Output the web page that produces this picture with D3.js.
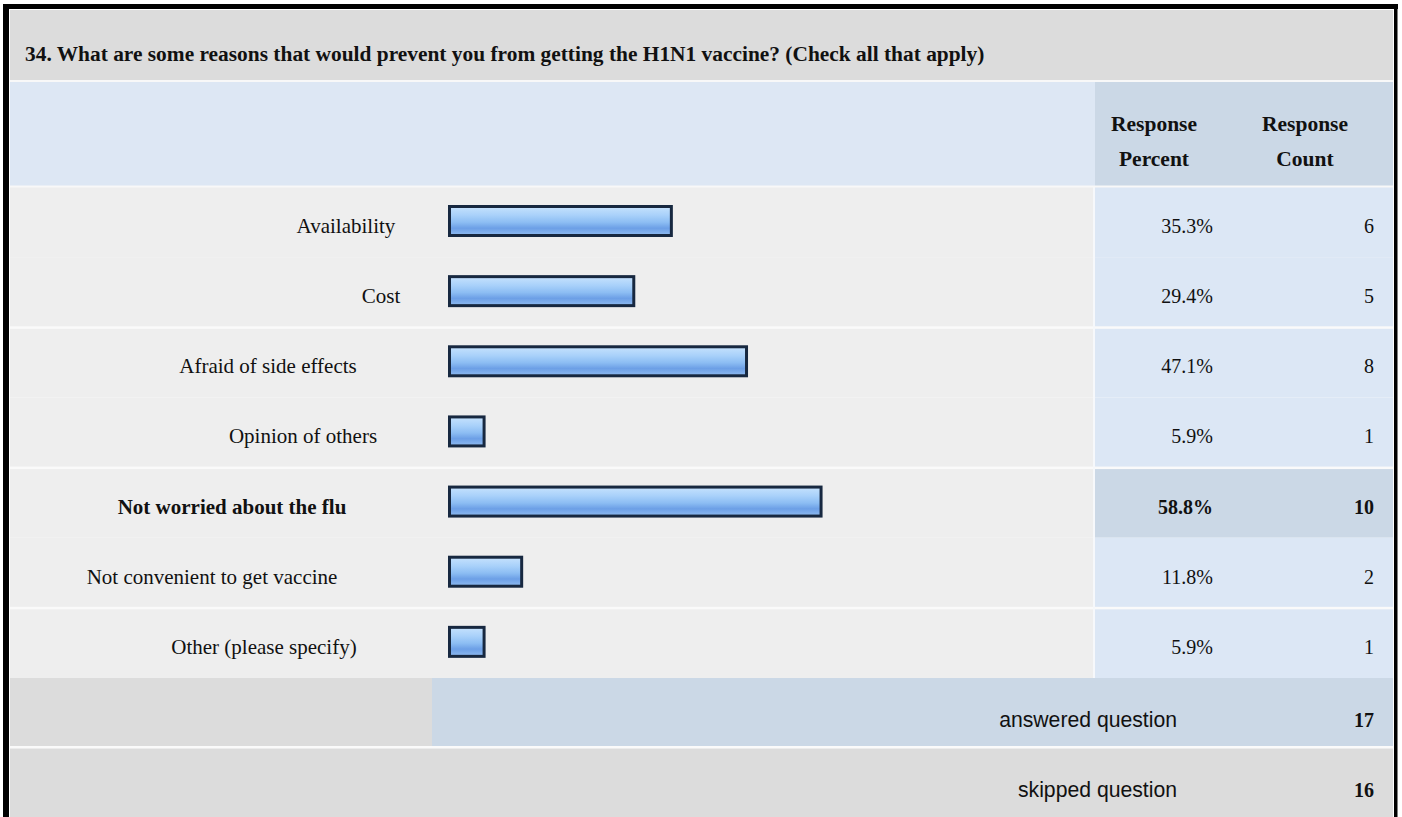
<!DOCTYPE html>
<html>
<head>
<meta charset="utf-8">
<title>H1N1 vaccine survey</title>
<style>
body { margin: 0; background: #fff; }
text.serif { font-family: "Times New Roman", "Liberation Serif", serif; fill: #111; }
text.sans { font-family: Arial, "Liberation Sans", sans-serif; fill: #111; }
</style>
<script src="https://cdn.jsdelivr.net/npm/d3@7/dist/d3.min.js"></script>
</head>
<body>
<script>

var title = "34. What are some reasons that would prevent you from getting the H1N1 vaccine? (Check all that apply)";
var categories = ["Availability", "Cost", "Afraid of side effects", "Opinion of others",
                  "Not worried about the flu", "Not convenient to get vaccine", "Other (please specify)"];
var percents = [35.3, 29.4, 47.1, 5.9, 58.8, 11.8, 5.9];
var counts = [6, 5, 8, 1, 10, 2, 1];
var highlighted = "Not worried about the flu";
var answered = 17, skipped = 16;

// layout only: where each label sits (the source table is not aligned)
var labelCenters = [346, 381, 268, 303, 232, 212, 264];

var width = 1402, height = 817;

var svg = d3.select("body").append("svg")
    .attr("width", width)
    .attr("height", height);

var defs = svg.append("defs");
var grad = defs.append("linearGradient")
    .attr("id", "barfill")
    .attr("x1", 0).attr("y1", 0).attr("x2", 0).attr("y2", 1);
[["0%", "#c6e2fd"], ["30%", "#a9d1fa"], ["55%", "#8cbdf3"], ["75%", "#6c9fe6"], ["100%", "#8fbbf0"]]
  .forEach(function(s) { grad.append("stop").attr("offset", s[0]).attr("stop-color", s[1]); });

var left = 10, right = 1393, colSplit = 1093;
var y = d3.scaleBand().domain(categories).range([187, 678]);
var x = d3.scaleLinear().domain([0, 100]).range([448, 1085]);

// title row
svg.append("rect").attr("x", left).attr("y", 10).attr("width", right - left).attr("height", 70).attr("fill", "#dcdcdc");
svg.append("text").attr("class", "serif").attr("x", 25).attr("y", 61)
    .style("font-size", "21.4px").style("font-weight", "bold").text(title);

// header row
svg.append("rect").attr("x", left).attr("y", 82).attr("width", right - left).attr("height", 104).attr("fill", "#dde7f4");
svg.append("rect").attr("x", colSplit + 2).attr("y", 82).attr("width", right - colSplit - 2).attr("height", 104).attr("fill", "#cbd8e6");

var heads = [["Response", "Percent", 1154], ["Response", "Count", 1305]];
heads.forEach(function(h) {
  var t = svg.append("text").attr("class", "serif").attr("text-anchor", "middle")
      .style("font-size", "21.5px").style("font-weight", "bold");
  t.append("tspan").attr("x", h[2]).attr("y", 131).text(h[0]);
  t.append("tspan").attr("x", h[2]).attr("y", 166).text(h[1]);
});

// body rows
var rows = svg.append("g").selectAll("g")
    .data(categories)
    .enter().append("g");

rows.append("rect")
    .attr("x", left).attr("y", function(d) { return y(d); })
    .attr("width", colSplit - left).attr("height", y.bandwidth())
    .attr("fill", "#eeeeee");

rows.append("rect")
    .attr("x", colSplit + 2).attr("y", function(d) { return y(d); })
    .attr("width", right - colSplit - 2).attr("height", y.bandwidth())
    .attr("fill", function(d) { return d == highlighted ? "#cbd8e6" : "#dce7f5"; });

rows.append("text")
    .attr("class", "serif")
    .attr("x", function(d, i) { return labelCenters[i]; })
    .attr("y", function(d) { return y(d) + 46; })
    .attr("text-anchor", "middle")
    .style("font-size", "21px")
    .style("font-weight", function(d) { return d == highlighted ? "bold" : "normal"; })
    .text(function(d) { return d; });

rows.append("rect")
    .attr("x", x(0) + 1.5)
    .attr("y", function(d) { return y(d) + 19.5; })
    .attr("width", function(d, i) { return Math.max(x(percents[i]) - x(0) - 3, 30); })
    .attr("height", 29)
    .attr("fill", "url(#barfill)")
    .attr("stroke", "#172840")
    .attr("stroke-width", 3);

rows.append("text")
    .attr("class", "serif")
    .attr("x", 1213)
    .attr("y", function(d) { return y(d) + 46; })
    .attr("text-anchor", "end")
    .style("font-size", "20px")
    .style("font-weight", function(d) { return d == highlighted ? "bold" : "normal"; })
    .text(function(d, i) { return percents[i].toFixed(1) + "%"; });

rows.append("text")
    .attr("class", "serif")
    .attr("x", 1374)
    .attr("y", function(d) { return y(d) + 46; })
    .attr("text-anchor", "end")
    .style("font-size", "20px")
    .style("font-weight", function(d) { return d == highlighted ? "bold" : "normal"; })
    .text(function(d, i) { return counts[i]; });

// white separators between pairs of rows
[2, 4, 6].forEach(function(i) {
  svg.append("rect").attr("x", left).attr("y", y(categories[i]) - 1)
      .attr("width", right - left).attr("height", 2.5).attr("fill", "#fafafa");
});
svg.append("rect").attr("x", colSplit).attr("y", 187).attr("width", 2).attr("height", 491).attr("fill", "#f6f8fb");

// footer rows
svg.append("rect").attr("x", left).attr("y", 678).attr("width", right - left).attr("height", 69).attr("fill", "#dcdcdc");
svg.append("rect").attr("x", 432).attr("y", 678).attr("width", right - 432).attr("height", 69).attr("fill", "#cbd8e6");
svg.append("rect").attr("x", left).attr("y", 746).attr("width", right - left).attr("height", 2.5).attr("fill", "#fafafa");
svg.append("rect").attr("x", left).attr("y", 748.5).attr("width", right - left).attr("height", 70).attr("fill", "#dcdcdc");

var footer = [["answered question", answered, 678], ["skipped question", skipped, 748]];
footer.forEach(function(f) {
  svg.append("text").attr("class", "sans").attr("x", 1177).attr("y", f[2] + 49)
      .attr("text-anchor", "end").style("font-size", "21.2px").text(f[0]);
  svg.append("text").attr("class", "serif").attr("x", 1374).attr("y", f[2] + 49)
      .attr("text-anchor", "end").style("font-size", "20px").style("font-weight", "bold").text(f[1]);
});

// white gaps and the black frame
svg.append("rect").attr("x", left).attr("y", 80).attr("width", right - left).attr("height", 2).attr("fill", "#f8f8f8");
svg.append("rect").attr("x", left).attr("y", 185.5).attr("width", right - left).attr("height", 2).attr("fill", "#f8f8f8");
svg.append("rect").attr("x", 3).attr("y", 4).attr("width", 1395).attr("height", 5).attr("fill", "#000");
svg.append("rect").attr("x", 3).attr("y", 4).attr("width", 6).attr("height", height).attr("fill", "#000");
svg.append("rect").attr("x", 1394).attr("y", 4).attr("width", 3.5).attr("height", height).attr("fill", "#000");

</script>
</body>
</html>
